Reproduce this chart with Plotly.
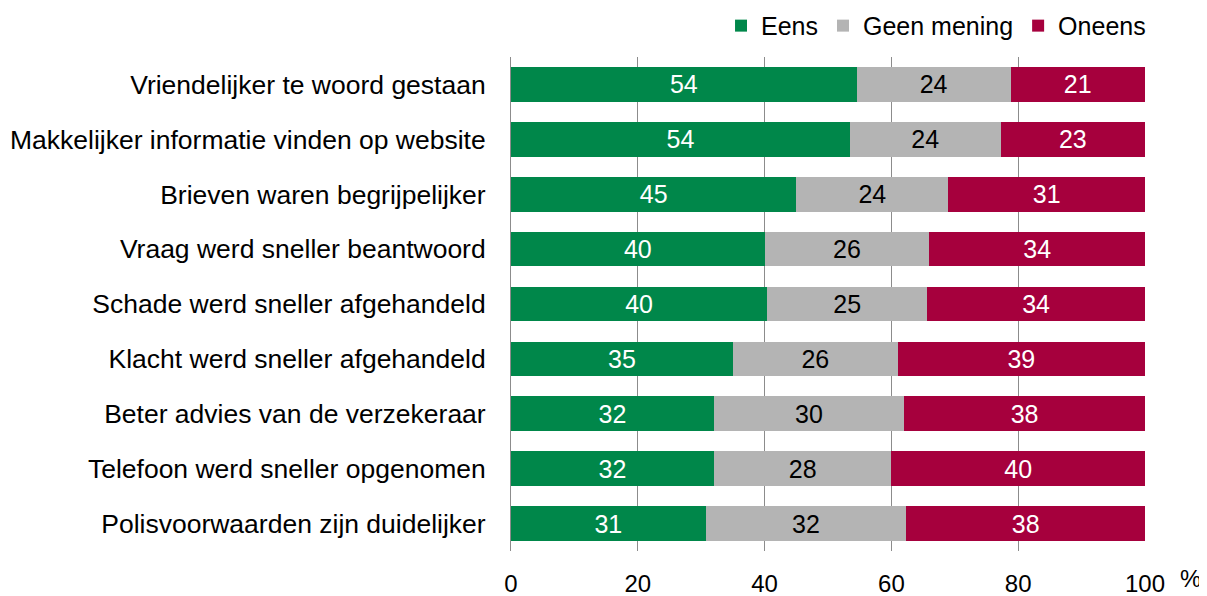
import plotly.graph_objects as go

categories = [
    'Vriendelijker te woord gestaan',
    'Makkelijker informatie vinden op website',
    'Brieven waren begrijpelijker',
    'Vraag werd sneller beantwoord',
    'Schade werd sneller afgehandeld',
    'Klacht werd sneller afgehandeld',
    'Beter advies van de verzekeraar',
    'Telefoon werd sneller opgenomen',
    'Polisvoorwaarden zijn duidelijker',
]
eens = [54, 54, 45, 40, 40, 35, 32, 32, 31]
geen_mening = [24, 24, 24, 26, 25, 26, 30, 28, 32]
oneens = [21, 23, 31, 34, 34, 39, 38, 40, 38]

series = [
    ('Eens', eens, '#00874a', 'white'),
    ('Geen mening', geen_mening, '#b4b4b4', 'black'),
    ('Oneens', oneens, '#a6003d', 'white'),
]

fig = go.Figure()
for name, vals, col, tcol in series:
    fig.add_trace(go.Bar(
        y=categories, x=vals, name=name, orientation='h',
        marker=dict(color=col, line=dict(width=0)),
        text=[str(v) for v in vals], texttemplate='%{text}',
        textposition='inside', insidetextanchor='middle', textangle=0,
        constraintext='none',
        textfont=dict(color=tcol, size=25, family='Liberation Sans'),
    ))

fig.update_layout(
    barmode='stack',
    barnorm='percent',
    bargap=0.37,
    width=1207, height=596,
    margin=dict(l=503, r=70, t=49, b=53),
    paper_bgcolor='white', plot_bgcolor='white',
    font=dict(family='Liberation Sans', size=24, color='black'),
    legend=dict(orientation='h', xref='container', x=0.947, xanchor='right',
                yref='container', y=0.97, yanchor='middle',
                font=dict(size=25), traceorder='normal',
                itemwidth=30, bgcolor='rgba(0,0,0,0)'),
    xaxis=dict(range=[0, 100], dtick=20, showgrid=True, gridcolor='#8c8c8c',
               gridwidth=1, zeroline=False, showline=False, ticks='',
               ticklabelstandoff=16, tickfont=dict(size=24), automargin=False),
    yaxis=dict(autorange='reversed', showline=True, linecolor='#8c8c8c',
               linewidth=1, ticks='', ticklabelstandoff=19,
               tickfont=dict(size=26.5), automargin=False),
    annotations=[dict(text='%', xref='paper', yref='paper', x=1.052, y=-0.025,
                      xanchor='left', yanchor='top', showarrow=False,
                      font=dict(size=24))],
)

fig.write_html('out.html')
